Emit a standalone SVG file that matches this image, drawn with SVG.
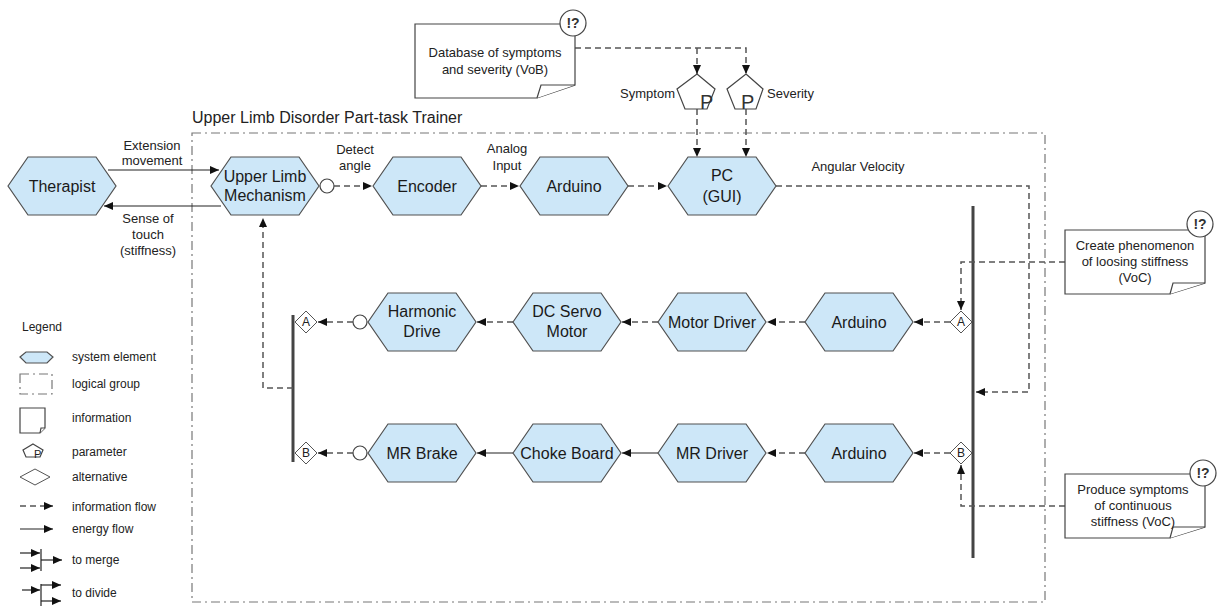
<svg xmlns="http://www.w3.org/2000/svg" xmlns:xlink="http://www.w3.org/1999/xlink" width="1217" height="606" viewBox="0 0 1217 606">
<style>
.hex{fill:#cde7f8;stroke:#505050;stroke-width:1.2}
.nt{font-family:"Liberation Sans",Arial,sans-serif;font-size:16px;fill:#1a1a1a;text-anchor:middle}
.lb{font-family:"Liberation Sans",Arial,sans-serif;font-size:13px;fill:#222;text-anchor:middle}
.lg{font-family:"Liberation Sans",Arial,sans-serif;font-size:12px;fill:#222}
.info{stroke:#555;stroke-width:1.5;stroke-dasharray:6,4;fill:none}
.en{stroke:#222;stroke-width:1.2;fill:none}
.grp{stroke:#777;stroke-width:1.2;stroke-dasharray:9,4,2,4;fill:none}
.note{fill:#fff;stroke:#444;stroke-width:1.2}
.circ{fill:#fff;stroke:#444;stroke-width:1.2}
.bar{stroke:#444;stroke-width:3}
.dia{fill:#fff;stroke:#555;stroke-width:1}
.ex{font-family:"Liberation Sans",Arial,sans-serif;font-size:14px;font-weight:bold;fill:#333;text-anchor:middle}
.pp{font-family:"Liberation Sans",Arial,sans-serif;font-size:20px;fill:#333}
</style>
<defs>
<path id="hex" class="hex" d="M-54,0 L-34,-29 L34,-29 L54,0 L34,29 L-34,29 Z"/>
<marker id="ar" markerUnits="userSpaceOnUse" markerWidth="10" markerHeight="8" refX="9" refY="4" orient="auto">
<path d="M0,0 L9,4 L0,8 Z" fill="#111"/>
</marker>
</defs>

<!-- logical group -->
<g id="group">
<rect class="grp" x="192" y="133" width="853" height="469"/>
<text x="192" y="123" font-family="Liberation Sans,Arial,sans-serif" font-size="16" fill="#222">Upper Limb Disorder Part-task Trainer</text>
</g>

<!-- connectors -->
<g id="connectors">
<line class="en" x1="108" y1="170" x2="219" y2="170" marker-end="url(#ar)"/>
<line class="en" x1="221" y1="206" x2="104" y2="206" marker-end="url(#ar)"/>
<circle class="circ" cx="327" cy="186" r="7"/>
<line class="info" x1="334" y1="186" x2="372" y2="186" marker-end="url(#ar)"/>
<line class="info" x1="481" y1="186" x2="519" y2="186" marker-end="url(#ar)"/>
<line class="info" x1="628" y1="186" x2="667" y2="186" marker-end="url(#ar)"/>
<!-- database to parameters -->
<polyline class="info" points="575,48 746,48 746,74" marker-end="url(#ar)"/>
<line class="info" x1="697" y1="48" x2="697" y2="74" marker-end="url(#ar)"/>
<line class="info" x1="697" y1="109" x2="697" y2="157" marker-end="url(#ar)"/>
<line class="info" x1="746" y1="109" x2="746" y2="157" marker-end="url(#ar)"/>
<!-- angular velocity -->
<polyline class="info" points="776,186 1029,186 1029,392 976,392" marker-end="url(#ar)"/>
<!-- bars -->
<line class="bar" x1="973" y1="206" x2="973" y2="558"/>
<line class="bar" x1="293" y1="315" x2="293" y2="462"/>
<!-- VoC lines -->
<polyline class="info" points="1065,262 961,262 961,310" marker-end="url(#ar)"/>
<polyline class="info" points="1065,506 961,506 961,465" marker-end="url(#ar)"/>
<!-- row 2 -->
<line class="info" x1="950" y1="322" x2="914" y2="322" marker-end="url(#ar)"/>
<line class="info" x1="805" y1="322" x2="767" y2="322" marker-end="url(#ar)"/>
<line class="info" x1="658" y1="322" x2="622" y2="322" marker-end="url(#ar)"/>
<line class="info" x1="513" y1="322" x2="477" y2="322" marker-end="url(#ar)"/>
<circle class="circ" cx="360" cy="322" r="7"/>
<line class="info" x1="353" y1="322" x2="318" y2="322" marker-end="url(#ar)"/>
<!-- row 3 -->
<line class="info" x1="950" y1="453" x2="914" y2="453" marker-end="url(#ar)"/>
<line class="info" x1="805" y1="453" x2="767" y2="453" marker-end="url(#ar)"/>
<line class="en" x1="658" y1="453" x2="622" y2="453" marker-end="url(#ar)"/>
<line class="en" x1="513" y1="453" x2="477" y2="453" marker-end="url(#ar)"/>
<circle class="circ" cx="360" cy="453" r="7"/>
<line class="info" x1="353" y1="453" x2="318" y2="453" marker-end="url(#ar)"/>
<!-- return to upper limb -->
<polyline class="info" points="293,388 263,388 263,218" marker-end="url(#ar)"/>
<!-- labels -->
<text class="lb" x="152" y="150">Extension</text>
<text class="lb" x="152" y="165">movement</text>
<text class="lb" x="148" y="223">Sense of</text>
<text class="lb" x="148" y="239">touch</text>
<text class="lb" x="148" y="255">(stiffness)</text>
<text class="lb" x="355" y="154">Detect</text>
<text class="lb" x="355" y="170">angle</text>
<text class="lb" x="507" y="153">Analog</text>
<text class="lb" x="507" y="170">Input</text>
<text class="lb" x="858" y="171">Angular Velocity</text>
</g>

<!-- nodes -->
<g id="therapist"><use href="#hex" x="62" y="186"/><text class="nt" x="62" y="192">Therapist</text></g>
<g id="upper-limb"><use href="#hex" x="265" y="186"/><text class="nt" x="265" y="182">Upper Limb</text><text class="nt" x="265" y="201">Mechanism</text></g>
<g id="encoder"><use href="#hex" x="427" y="186"/><text class="nt" x="427" y="192">Encoder</text></g>
<g id="arduino1"><use href="#hex" x="574" y="186"/><text class="nt" x="574" y="192">Arduino</text></g>
<g id="pc"><use href="#hex" x="722" y="186"/><text class="nt" x="722" y="181">PC</text><text class="nt" x="722" y="202">(GUI)</text></g>

<g id="arduino2"><use href="#hex" x="859" y="322"/><text class="nt" x="859" y="328">Arduino</text></g>
<g id="motor-driver"><use href="#hex" x="712" y="322"/><text class="nt" x="712" y="328">Motor Driver</text></g>
<g id="dc-servo"><use href="#hex" x="567" y="322"/><text class="nt" x="567" y="317">DC Servo</text><text class="nt" x="567" y="337">Motor</text></g>
<g id="harmonic"><use href="#hex" x="422" y="322"/><text class="nt" x="422" y="317">Harmonic</text><text class="nt" x="422" y="337">Drive</text></g>

<g id="arduino3"><use href="#hex" x="859" y="453"/><text class="nt" x="859" y="459">Arduino</text></g>
<g id="mr-driver"><use href="#hex" x="712" y="453"/><text class="nt" x="712" y="459">MR Driver</text></g>
<g id="choke"><use href="#hex" x="567" y="453"/><text class="nt" x="567" y="459">Choke Board</text></g>
<g id="mr-brake"><use href="#hex" x="422" y="453"/><text class="nt" x="422" y="459">MR Brake</text></g>

<!-- alternatives -->
<g id="alt-a-right"><path class="dia" d="M950,322 L961,311 L972,322 L961,333 Z"/><text class="lg" x="961" y="326" text-anchor="middle">A</text></g>
<g id="alt-b-right"><path class="dia" d="M950,453 L961,442 L972,453 L961,464 Z"/><text class="lg" x="961" y="457" text-anchor="middle">B</text></g>
<g id="alt-a-left"><path class="dia" d="M295,322 L306,311 L317,322 L306,333 Z"/><text class="lg" x="306" y="326" text-anchor="middle">A</text></g>
<g id="alt-b-left"><path class="dia" d="M295,453 L306,442 L317,453 L306,464 Z"/><text class="lg" x="306" y="457" text-anchor="middle">B</text></g>

<!-- parameters -->
<g id="param-symptom">
<path class="note" d="M697,74 L715,89 L707,109 L685,109 L677,89 Z"/>
<text class="pp" x="700" y="109">P</text>
<text class="lb" x="675" y="98" style="text-anchor:end">Symptom</text>
</g>
<g id="param-severity">
<path class="note" d="M746,74 L763,89 L756,109 L735,109 L727,89 Z"/>
<text class="pp" x="741" y="109">P</text>
<text class="lb" x="767" y="98" style="text-anchor:start">Severity</text>
</g>

<!-- information notes -->
<g id="note-database">
<path class="note" d="M415,24 H575 V85 L537,98 H415 Z"/>
<path class="note" d="M537,98 L541,85 L575,85"/>
<circle class="circ" cx="573" cy="23" r="13"/>
<text class="ex" x="573" y="28">!?</text>
<text class="lb" x="495" y="57">Database of symptoms</text>
<text class="lb" x="495" y="74">and severity (VoB)</text>
</g>
<g id="note-create">
<path class="note" d="M1065,230 H1205 V283 L1170,294 H1065 Z"/>
<path class="note" d="M1170,294 L1173,283 L1205,283"/>
<circle class="circ" cx="1200" cy="224" r="13"/>
<text class="ex" x="1200" y="229">!?</text>
<text class="lb" x="1135" y="250">Create phenomenon</text>
<text class="lb" x="1135" y="266">of loosing stiffness</text>
<text class="lb" x="1135" y="282">(VoC)</text>
</g>
<g id="note-produce">
<path class="note" d="M1065,474 H1205 V527 L1170,538 H1065 Z"/>
<path class="note" d="M1170,538 L1173,527 L1205,527"/>
<circle class="circ" cx="1203" cy="473" r="13"/>
<text class="ex" x="1203" y="478">!?</text>
<text class="lb" x="1133" y="494">Produce symptoms</text>
<text class="lb" x="1133" y="510">of continuous</text>
<text class="lb" x="1133" y="526">stiffness (VoC)</text>
</g>

<!-- legend -->
<g id="legend">
<text class="lg" x="22" y="331" font-size="13">Legend</text>
<path class="hex" d="M20,357 L26,352 L47,352 L53,357 L47,363 L26,363 Z"/>
<text class="lg" x="72" y="361">system element</text>
<rect class="grp" x="20" y="374" width="32" height="20"/>
<text class="lg" x="72" y="388">logical group</text>
<path class="note" d="M20,408 H45 V428 L40,433 H20 Z"/>
<path class="note" d="M40,433 L41,428 L45,428"/>
<text class="lg" x="72" y="422">information</text>
<path class="note" d="M33,444 L43,450 L40,457 L26,457 L23,450 Z"/>
<text x="34" y="458" font-family="Liberation Sans,Arial,sans-serif" font-size="11" fill="#222">P</text>
<text class="lg" x="72" y="456">parameter</text>
<path class="dia" d="M20,477 L35,469 L50,477 L35,485 Z"/>
<text class="lg" x="72" y="481">alternative</text>
<line class="info" x1="20" y1="506" x2="53" y2="506" stroke-width="1.2" marker-end="url(#ar)"/>
<text class="lg" x="72" y="511">information flow</text>
<line class="en" x1="20" y1="529" x2="53" y2="529" marker-end="url(#ar)"/>
<text class="lg" x="72" y="533">energy flow</text>
<line class="en" x1="20" y1="553" x2="40" y2="553" marker-end="url(#ar)"/>
<line class="en" x1="20" y1="568" x2="40" y2="568" marker-end="url(#ar)"/>
<line class="en" x1="41" y1="549" x2="41" y2="571"/>
<line class="en" x1="41" y1="560" x2="62" y2="560" marker-end="url(#ar)"/>
<text class="lg" x="72" y="564">to merge</text>
<line class="en" x1="22" y1="590" x2="40" y2="590" marker-end="url(#ar)"/>
<line class="en" x1="41" y1="584" x2="41" y2="606"/>
<line class="en" x1="41" y1="585" x2="61" y2="585" marker-end="url(#ar)"/>
<line class="en" x1="41" y1="601" x2="61" y2="601" marker-end="url(#ar)"/>
<text class="lg" x="72" y="597">to divide</text>
</g>
</svg>
